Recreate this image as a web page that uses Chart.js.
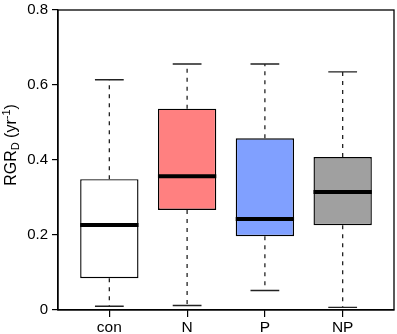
<!DOCTYPE html>
<html>
<head>
<meta charset="utf-8">
<script src="https://cdn.jsdelivr.net/npm/chart.js@4"></script>
<style>
  html, body { margin: 0; padding: 0; background: #fff; }
  #wrap { width: 397px; height: 334px; }
</style>
</head>
<body>
<div id="wrap"><canvas id="boxChart"></canvas></div>
<script>
// ================================
// Data
// ================================
const categories = ['con', 'N', 'P', 'NP'];
const whiskerLow = [0.010, 0.012, 0.052, 0.007];
const q1 = [0.085, 0.267, 0.197, 0.226];
const medians = [0.227, 0.357, 0.243, 0.315];
const q3 = [0.349, 0.537, 0.458, 0.408];
const whiskerHigh = [0.614, 0.656, 0.656, 0.635];
const yTicks = [0, 0.2, 0.4, 0.6, 0.8];
const boxColors = ['#ffffff', '#ff8080', '#80a0ff', '#a0a0a0'];

const FONT = "'Liberation Sans', Arial, sans-serif";
const positions = categories.map((c, i) => i + 1);
const BOX_HALF = 0.375;
const CAP_HALF = 0.185;

// build segment lists, null y breaks the line
const boxData = positions.map((x, i) => ({ x: x, y: [q1[i], q3[i]] }));
const whiskerData = positions.flatMap((x, i) => [
    { x: x, y: q3[i] }, { x: x, y: whiskerHigh[i] }, { x: x, y: null },
    { x: x, y: q1[i] }, { x: x, y: whiskerLow[i] }, { x: x, y: null }
]);
const capData = positions.flatMap((x, i) => [
    { x: x - CAP_HALF, y: whiskerHigh[i] }, { x: x + CAP_HALF, y: whiskerHigh[i] }, { x: x, y: null },
    { x: x - CAP_HALF, y: whiskerLow[i] }, { x: x + CAP_HALF, y: whiskerLow[i] }, { x: x, y: null }
]);
const medianData = positions.flatMap((x, i) => [
    { x: x - BOX_HALF, y: medians[i] }, { x: x + BOX_HALF, y: medians[i] }, { x: x, y: null }
]);

// frame around plot area
const framePlugin = {
    id: 'frame',
    afterDraw(chart) {
        const { ctx, chartArea: a } = chart;
        ctx.save();
        ctx.strokeStyle = '#000';
        ctx.lineWidth = 1.3;
        ctx.strokeRect(a.left, a.top, a.right - a.left, a.bottom - a.top);
        ctx.restore();
    }
};

// y title with subscript / superscript
const yTitlePlugin = {
    id: 'yTitle',
    afterDraw(chart) {
        const ctx = chart.ctx;
        const parts = [
            { t: 'RGR', size: 16, dy: 0 },
            { t: 'D', size: 11, dy: 3 },
            { t: ' (yr', size: 16, dy: 0 },
            { t: '-1', size: 11, dy: -6 },
            { t: ')', size: 16, dy: 0 }
        ];
        ctx.save();
        let total = 0;
        parts.forEach(p => {
            ctx.font = p.size + 'px ' + FONT;
            p.w = ctx.measureText(p.t).width;
            total += p.w;
        });
        ctx.translate(16, 145);
        ctx.rotate(-Math.PI / 2);
        ctx.fillStyle = '#000';
        ctx.textBaseline = 'alphabetic';
        let x = -total / 2;
        parts.forEach(p => {
            ctx.font = p.size + 'px ' + FONT;
            ctx.fillText(p.t, x, p.dy);
            x += p.w;
        });
        ctx.restore();
    }
};

new Chart(document.getElementById('boxChart'), {
    type: 'bar',
    data: {
        datasets: [
            {
                type: 'line',
                data: medianData,
                borderColor: '#000',
                borderWidth: 4,
                pointRadius: 0,
                spanGaps: false,
                order: 0
            },
            {
                type: 'line',
                data: capData,
                borderColor: '#222',
                borderWidth: 1.3,
                pointRadius: 0,
                spanGaps: false,
                order: 1
            },
            {
                type: 'line',
                data: whiskerData,
                borderColor: '#222',
                borderWidth: 1.3,
                borderDash: [4, 5],
                pointRadius: 0,
                spanGaps: false,
                order: 1
            },
            {
                type: 'bar',
                data: boxData,
                backgroundColor: boxColors,
                borderColor: '#000',
                borderWidth: 1.4,
                borderSkipped: false,
                barPercentage: 0.75,
                categoryPercentage: 1,
                order: 2
            }
        ]
    },
    options: {
        responsive: true,
        maintainAspectRatio: false,
        animation: false,
        layout: { padding: { top: 10, right: 3, left: 0, bottom: 0 } },
        plugins: {
            legend: { display: false },
            tooltip: { enabled: false }
        },
        scales: {
            x: {
                type: 'linear',
                offset: false,
                min: 0.34,
                max: 4.66,
                afterBuildTicks: scale => { scale.ticks = positions.map(v => ({ value: v })); },
                afterFit: scale => { scale.height = 24; scale.paddingLeft = 0; scale.paddingRight = 0; },
                ticks: {
                    autoSkip: false,
                    maxRotation: 0,
                    padding: 1,
                    color: '#000',
                    font: { family: FONT, size: 15.5 },
                    callback: v => categories[v - 1]
                },
                grid: { offset: false, drawOnChartArea: false, tickLength: 7, color: '#000', lineWidth: 1.2 },
                border: { display: true, color: '#000', width: 1.3 }
            },
            y: {
                min: 0,
                max: 0.8,
                afterBuildTicks: scale => { scale.ticks = yTicks.map(v => ({ value: v })); },
                afterFit: scale => { scale.width = 58; scale.paddingTop = 0; scale.paddingBottom = 0; },
                ticks: {
                    padding: 4,
                    color: '#000',
                    font: { family: FONT, size: 15 },
                    callback: v => (v === 0 ? '0' : v.toFixed(1))
                },
                grid: { drawOnChartArea: false, tickLength: 6, color: '#000', lineWidth: 1.2 },
                border: { display: true, color: '#000', width: 1.3 }
            }
        }
    },
    plugins: [framePlugin, yTitlePlugin]
});
</script>
</body>
</html>
